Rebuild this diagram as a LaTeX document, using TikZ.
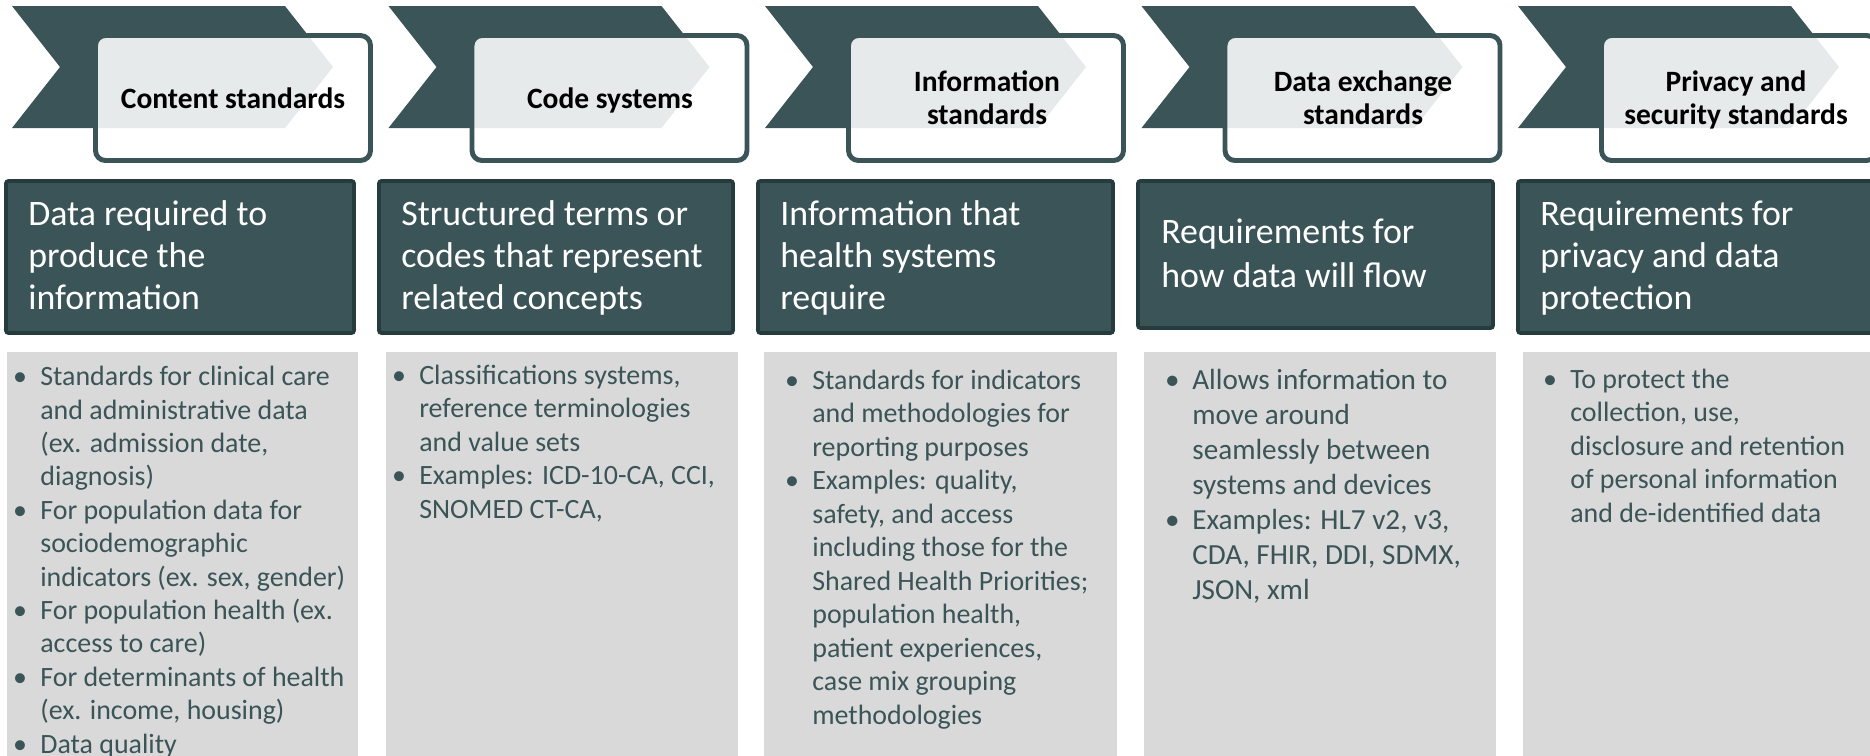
\documentclass[tikz,border=0pt]{standalone}
\usepackage{fontspec}
\setmainfont{Carlito}
\definecolor{stdteal}{HTML}{3A5457}
\definecolor{stdedge}{HTML}{263B3D}
\definecolor{stdgrey}{HTML}{D9D9D9}
\newcommand{\lbul}{\llap{\makebox[15.5pt][l]{\textbullet}}}
\tikzset{
  chevron/.style={fill=stdteal},
  tabbox/.style={draw=stdteal, line width=2.8pt, rounded corners=0.2cm, fill=white, fill opacity=0.88},
  tabtext/.style={inner sep=0pt, align=center, text=black, font=\bfseries\fontsize{16.8}{18.7}\selectfont},
  headbox/.style={fill=stdteal, draw=stdedge, line width=2.2pt, rounded corners=1.5pt},
  headtext/.style={inner sep=0pt, align=left, text=white, font=\fontsize{20.4}{24}\selectfont},
  listbox/.style={fill=stdgrey},
  listtext/.style={inner sep=0pt, align=left, text=stdteal, font=\fontsize{15.9}{19}\selectfont},
}
\begin{document}
\begin{tikzpicture}[x=0.02cm,y=-0.02cm]
\useasboundingbox (0,0) rectangle (1870,755);
\clip (0,0) rectangle (1870,755);
% chevrons with their tab boxes
\foreach \x in {0,376.5,753,1129.5,1506}{
  \fill[chevron] (12+\x,6)--(285+\x,6)--(333+\x,67)--(285+\x,128)--(12+\x,128)--(60+\x,67)--cycle;
  \draw[tabbox] (95.5+\x,35.5) rectangle (370.5+\x,160.5);
}
% multi-line nodes sit on the baseline of their last line
\node[tabtext,anchor=base] (t1) at (233,108) {Content standards};
\node[tabtext,anchor=base] (t2) at (610,108) {Code systems};
\node[tabtext,anchor=base] (t3) at (987,124) {Information\\standards};
\node[tabtext,anchor=base] (t4) at (1363,124) {Data exchange\\standards};
\node[tabtext,anchor=base] (t5) at (1736,124) {Privacy and\\security standards};
% dark headers
\draw[headbox] (6,181) rectangle (354,333);
\draw[headbox] (379,181) rectangle (733,333);
\draw[headbox] (758,181) rectangle (1113,333);
\draw[headbox] (1138,181) rectangle (1493,328);
\draw[headbox] (1518,181) rectangle (1890,333);
\node[headtext,anchor=base west] (h1) at (28,309.6) {Data required to\\produce the\\information};
\node[headtext,anchor=base west] (h2) at (401,309.6) {Structured terms or\\codes that represent\\related concepts};
\node[headtext,anchor=base west] (h3) at (780,309.6) {Information that\\health systems\\require};
\node[headtext,anchor=base west,font=\fontsize{20.4}{24.9}\selectfont] (h4) at (1161,287) {Requirements for\\how data will flow};
\node[headtext,anchor=base west] (h5) at (1540,309.6) {Requirements for\\privacy and data\\protection};
% grey lists
\fill[listbox] (7,352) rectangle (358,760);
\fill[listbox] (386,352) rectangle (738,760);
\fill[listbox] (764,352) rectangle (1117,760);
\fill[listbox] (1144,352) rectangle (1496,760);
\fill[listbox] (1523,352) rectangle (1880,760);
\node[listtext,anchor=base west] (l1) at (40,753) {\lbul Standards for clinical care\\and administrative data\\(ex. admission date,\\diagnosis)\\\lbul For population data for\\sociodemographic\\indicators (ex. sex, gender)\\\lbul For population health (ex.\\access to care)\\\lbul For determinants of health\\(ex. income, housing)\\\lbul Data quality};
\node[listtext,anchor=base west] (l2) at (419,518) {\lbul Classifications systems,\\reference terminologies\\and value sets\\\lbul Examples: ICD-10-CA, CCI,\\SNOMED CT-CA,};
\node[listtext,anchor=base west,font=\fontsize{15.9}{19.05}\selectfont] (l3) at (812,724) {\lbul Standards for indicators\\and methodologies for\\reporting purposes\\\lbul Examples: quality,\\safety, and access\\including those for the\\Shared Health Priorities;\\population health,\\patient experiences,\\case mix grouping\\methodologies};
\node[listtext,anchor=base west,font=\fontsize{16.6}{19.84}\selectfont] (l4) at (1192,599) {\lbul Allows information to\\move around\\seamlessly between\\systems and devices\\\lbul Examples: HL7 v2, v3,\\CDA, FHIR, DDI, SDMX,\\JSON, xml};
\node[listtext,anchor=base west] (l5) at (1570,522) {\lbul To protect the\\collection, use,\\disclosure and retention\\of personal information\\and de-identified data};
\end{tikzpicture}
\end{document}
